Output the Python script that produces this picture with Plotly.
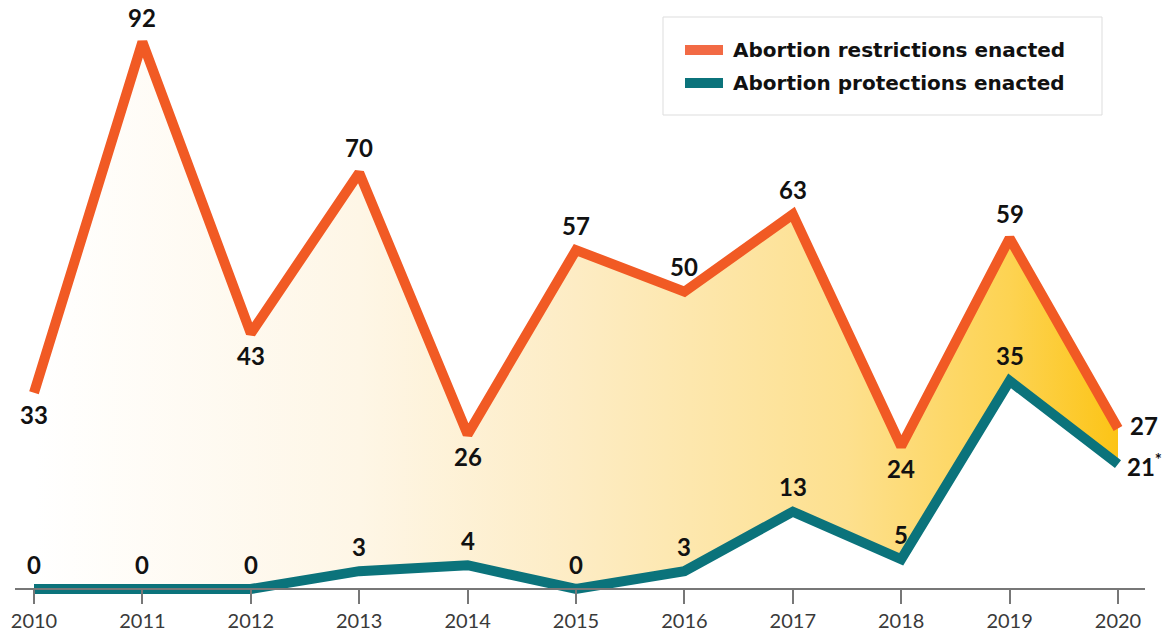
import plotly.graph_objects as go

years = [2010, 2011, 2012, 2013, 2014, 2015, 2016, 2017, 2018, 2019, 2020]
restrictions = [33, 92, 43, 70, 26, 57, 50, 63, 24, 59, 27]
protections = [0, 0, 0, 3, 4, 0, 3, 13, 5, 35, 21]
restr_labels = ["33", "92", "43", "70", "26", "57", "50", "63", "24", "59", "27"]
prot_labels = ["0", "0", "0", "3", "4", "0", "3", "13", "5", "35", "21<sup>*</sup>"]
series_names = ["Abortion restrictions enacted", "Abortion protections enacted"]

ORANGE = "#F15A24"
TEAL = "#0B737B"
FONT = "Lato"

W, H = 1162, 634
ML, MR, MT, MB = 15, 17, 10, 25
unit = 547 / 92.0
ymin = -(609 - 589) / unit
ymax = ymin + (H - MT - MB) / unit
px_per_year = 1084 / 10.0
xmin = 2010 - 19 / px_per_year
xmax = 2020 + 27 / px_per_year


def px(xpix):
    return (xpix - ML) / (W - ML - MR)


def py(ypix):
    return (H - MB - ypix) / (H - MT - MB)


fig = go.Figure()
fig.add_trace(go.Scatter(
    x=years, y=protections, mode="lines", name=series_names[1],
    line=dict(color=TEAL, width=10), showlegend=False, hoverinfo="skip"))
fig.add_trace(go.Scatter(
    x=years, y=restrictions, mode="lines", name=series_names[0],
    line=dict(color=ORANGE, width=10), fill="tonexty",
    fillgradient=dict(type="horizontal",
                      colorscale=[[0, "rgba(255,255,255,1)"], [0.3, "#FEF6E6"],
                                  [0.5, "#FDECC4"], [0.75, "#FDE08E"],
                                  [0.9, "#FDD352"], [1, "#FCC416"]]),
    showlegend=False, hoverinfo="skip"))

annotations = []
below = {2010, 2012, 2014, 2018}
for yr, v, t in zip(years, restrictions, restr_labels):
    if yr == 2020:
        annotations.append(dict(x=yr, y=v, text=t, showarrow=False, xanchor="left",
                                yanchor="middle", xshift=10, yshift=3))
    elif yr in below:
        annotations.append(dict(x=yr, y=v, text=t, showarrow=False, yanchor="middle",
                                yshift=-22))
    else:
        annotations.append(dict(x=yr, y=v, text=t, showarrow=False, yanchor="middle",
                                yshift=25))
for yr, v, t in zip(years, protections, prot_labels):
    if yr == 2020:
        annotations.append(dict(x=yr, y=v, text=t, showarrow=False, xanchor="left",
                                yanchor="middle", xshift=7, yshift=-1))
    else:
        annotations.append(dict(x=yr, y=v, text=t, showarrow=False, yanchor="middle",
                                yshift=25))
for a in annotations:
    a["font"] = dict(family=FONT, size=24, color="#111111", weight="bold")

shapes = [
    dict(type="rect", xref="paper", yref="paper", x0=px(663), x1=px(1102),
         y0=py(115), y1=py(17), line=dict(color="#DDDDDD", width=1),
         fillcolor="white", layer="above"),
    dict(type="rect", xref="paper", yref="paper", x0=px(685), x1=px(723),
         y0=py(55), y1=py(45), line=dict(width=0), fillcolor="#F26A45",
         layer="above"),
    dict(type="rect", xref="paper", yref="paper", x0=px(685), x1=px(723),
         y0=py(88), y1=py(78), line=dict(width=0), fillcolor=TEAL, layer="above"),
]
for name, ypix in zip(series_names, [50, 83]):
    annotations.append(dict(xref="paper", yref="paper", x=px(731), y=py(ypix),
                            text=name, showarrow=False, xanchor="left",
                            yanchor="middle",
                            font=dict(family="DejaVu Sans", size=20, color="#111111",
                                      weight="bold")))

fig.update_layout(
    width=W, height=H,
    margin=dict(l=ML, r=MR, t=MT, b=MB, autoexpand=False),
    paper_bgcolor="white", plot_bgcolor="rgba(0,0,0,0)",
    showlegend=False,
    annotations=annotations,
    shapes=shapes,
    xaxis=dict(range=[xmin, xmax], tickvals=years, ticktext=[str(y) for y in years],
               showgrid=False, zeroline=False, showline=True, linecolor="#777777",
               linewidth=1.5, ticks="outside", ticklen=14, tickcolor="#777777",
               tickwidth=1.5, anchor="free", position=(0 - ymin) / (ymax - ymin),
               automargin=False, ticklabelstandoff=0,
               tickfont=dict(family=FONT, size=20, color="#3a3a3a"),
               fixedrange=True),
    yaxis=dict(range=[ymin, ymax], showgrid=False, zeroline=False, showline=False,
               showticklabels=False, ticks="", fixedrange=True, automargin=False),
)

fig.write_html("out.html", config={"displayModeBar": False},
               post_script="document.body.style.margin='0';"
                           "document.body.style.overflow='hidden';")
